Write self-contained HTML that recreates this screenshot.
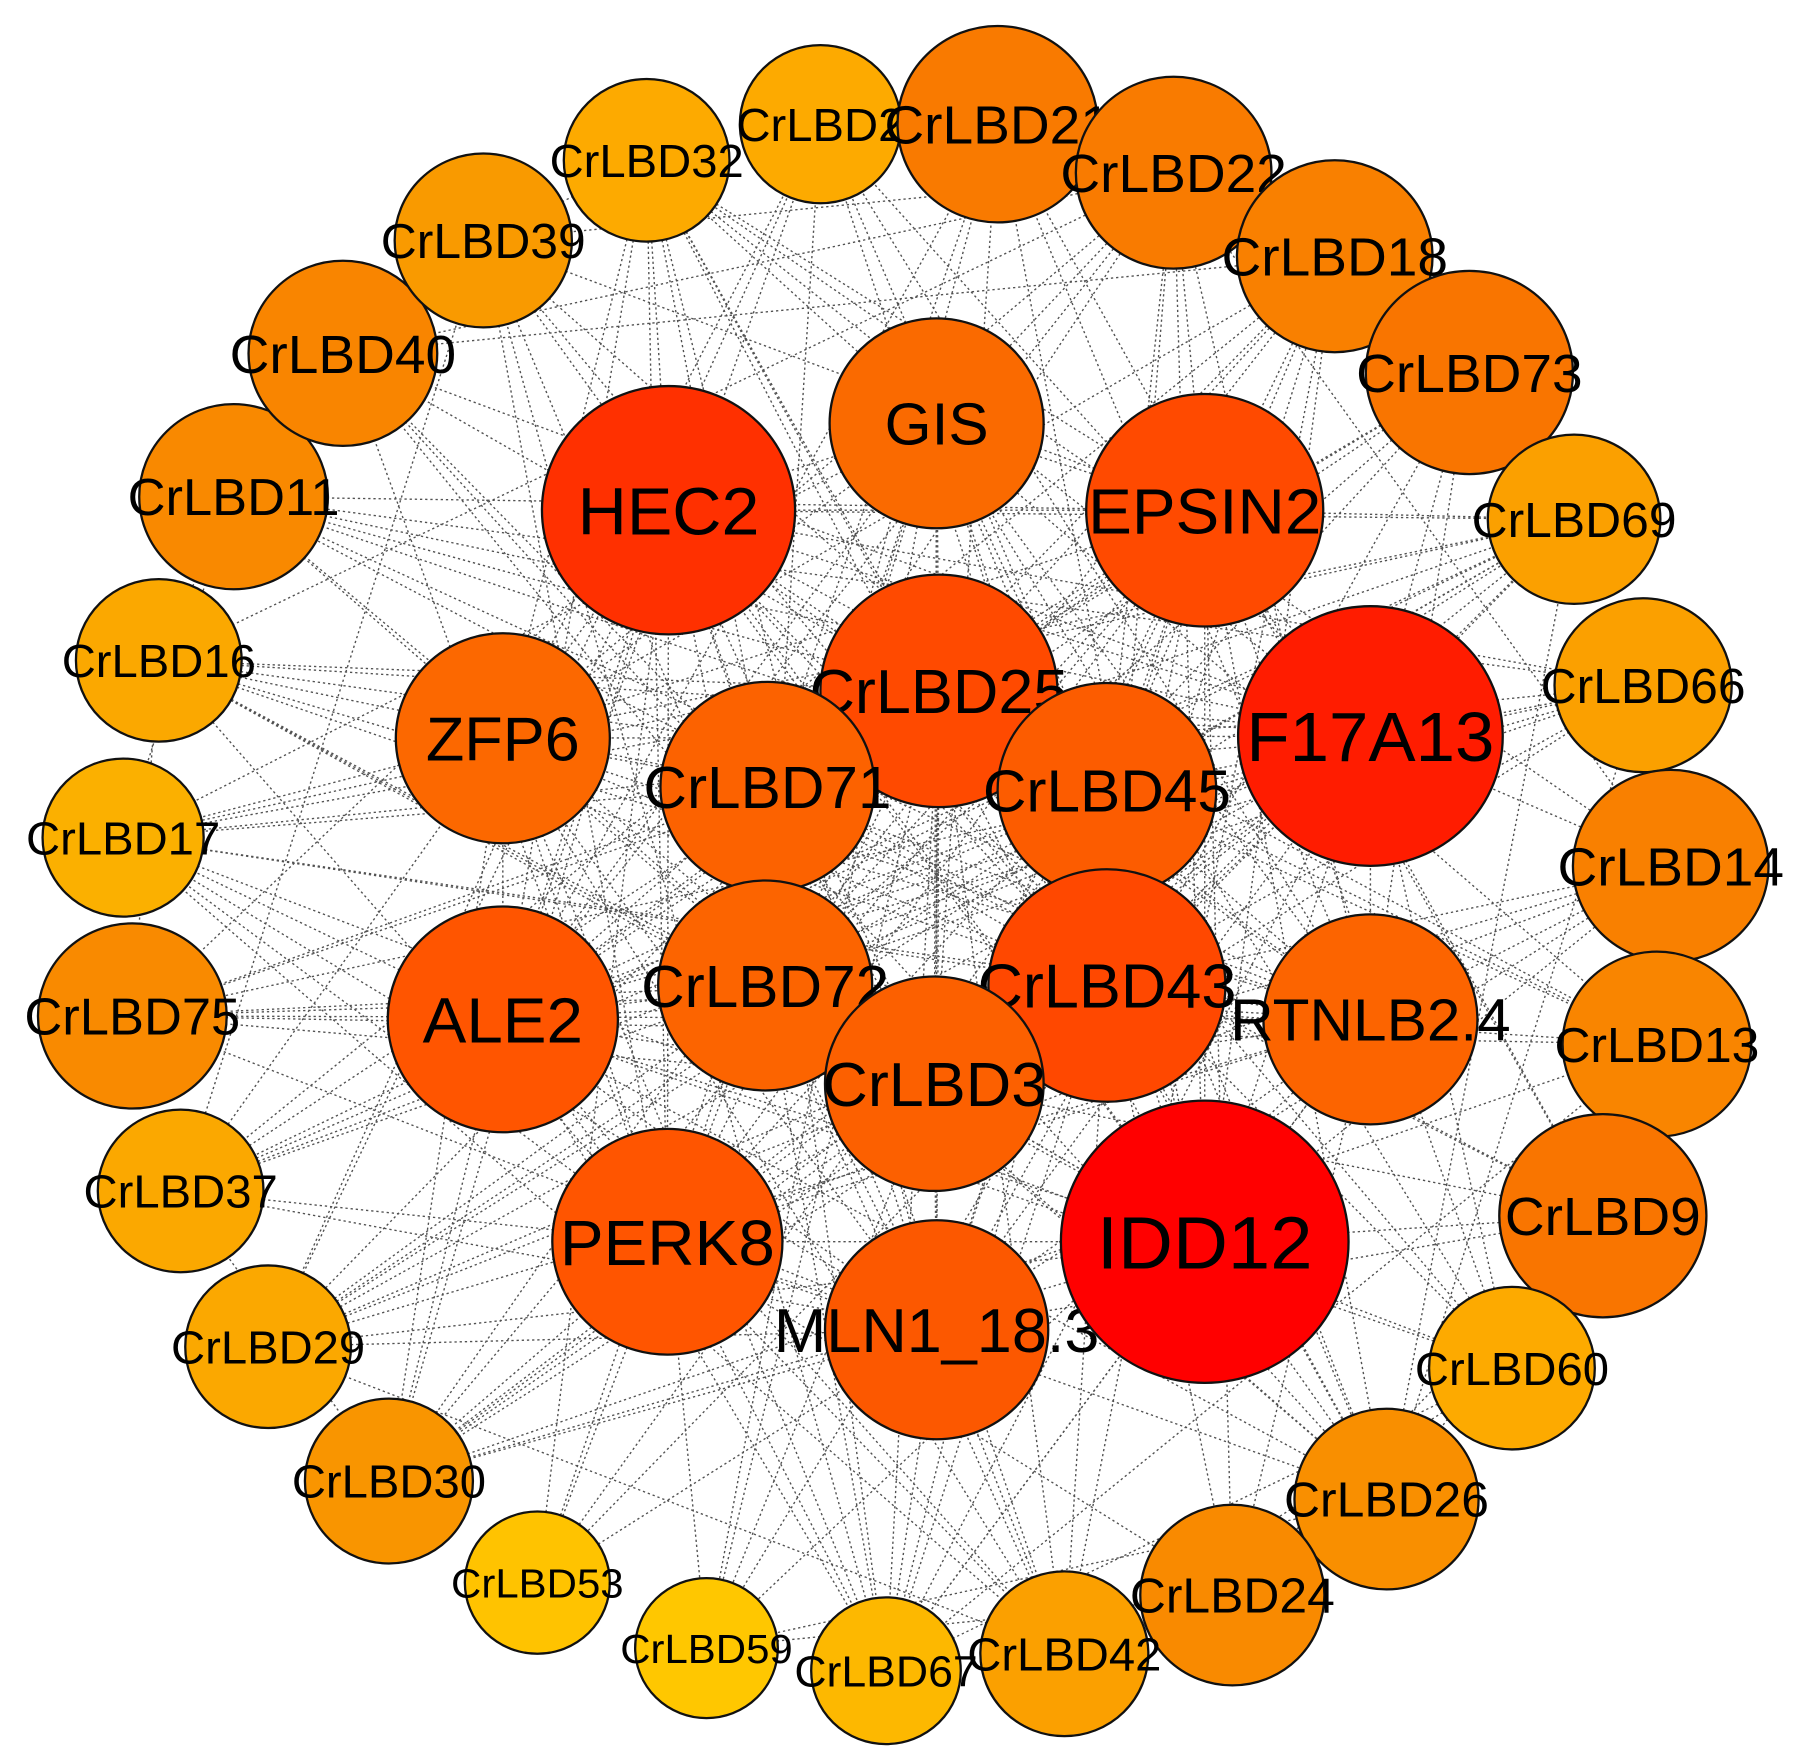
<!DOCTYPE html>
<html><head><meta charset="utf-8"><style>html,body{margin:0;padding:0;background:#fff}svg{display:block}</style></head>
<body>
<svg id="s" width="1795" height="1761" viewBox="0 0 1560 1560" preserveAspectRatio="none" xmlns="http://www.w3.org/2000/svg">
<g id="edges" stroke="#333" stroke-width="1.2" stroke-dasharray="2,2.5" fill="none" opacity="0.85"></g>
<g id="nodes" font-family="'Liberation Sans', sans-serif" text-anchor="middle"></g>
</svg>
<script>
var N=[
["CrLBD2",713,110,70,"#FDAA00",36],["CrLBD21",867,110,87,"#F97A00",42],["CrLBD22",1020,153,85,"#F97B00",42],
["CrLBD18",1160,227,85,"#F98000",42],["CrLBD73",1277,330,90,"#F97500",42],["CrLBD69",1368,460,75,"#FBA000",38],
["CrLBD66",1428,607,77,"#FBA000",38],["CrLBD14",1452,767,85,"#F98000",42],["CrLBD13",1440,925,82,"#F98500",38],
["CrLBD9",1393,1077,90,"#F97500",42],["CrLBD60",1314,1212,72,"#FDAA00",36],["CrLBD26",1205,1328,80,"#F98F00",38],
["CrLBD24",1071,1413,80,"#F98A00",38],["CrLBD42",925,1465,73,"#FBA000",36],["CrLBD67",770,1480,65,"#FDB800",34],
["CrLBD59",614,1460,62,"#FFC700",32],["CrLBD53",467,1402,63,"#FFC300",32],["CrLBD30",338,1312,73,"#F99500",36],
["CrLBD29",233,1193,72,"#FBA800",36],["CrLBD37",157,1055,72,"#FBA800",36],["CrLBD75",115,900,82,"#F98A00",40],
["CrLBD17",107,742,70,"#FBB000",36],["CrLBD16",138,585,72,"#FBA800",36],["CrLBD11",203,440,82,"#F98900",40],
["CrLBD40",298,313,82,"#F98500",42],["CrLBD39",420,213,77,"#F99A00",38],["CrLBD32",562,142,72,"#FDAA00",36],
["GIS",814,375,93,"#FA6A00",46],["HEC2",581,452,110,"#FF3000",52],["EPSIN2",1047,452,103,"#FF4A00",50],
["CrLBD25",816,612,103,"#FF4A00",48],["ZFP6",437,654,93,"#FC6800",48],["F17A13",1191,652,115,"#FF1C00",54],
["CrLBD71",667,697,93,"#FC6200",46],["CrLBD45",962,700,95,"#FC5C00",46],["CrLBD72",665,873,93,"#FC6400",46],
["CrLBD43",962,873,103,"#FF4800",48],["ALE2",437,903,100,"#FF5500",50],["RTNLB2.4",1191,903,93,"#FC6400",46],
["CrLBD3",812,960,95,"#FC6000",48],["PERK8",580,1100,100,"#FF5500",50],["MLN1_18.3",814,1178,97,"#FC5800",48],
["IDD12",1047,1100,125,"#FF0000",58]];
var ns="http://www.w3.org/2000/svg",E=document.getElementById("edges"),G=document.getElementById("nodes");
var seed=7;function r(){seed=(seed*16807)%2147483647;return seed/2147483647;}
var inner=27;
for(var i=0;i<N.length;i++)for(var j=i+1;j<N.length;j++){
 var p=(i>=inner&&j>=inner)?0.75:(j>=inner?0.5:0.12);
 if(r()<p){var l=document.createElementNS(ns,"line");l.setAttribute("x1",N[i][1]);l.setAttribute("y1",N[i][2]);l.setAttribute("x2",N[j][1]);l.setAttribute("y2",N[j][2]);E.appendChild(l);}
}
N.forEach(function(n){
 var fs=n[5]*1.14;
 var c=document.createElementNS(ns,"circle");c.setAttribute("cx",n[1]);c.setAttribute("cy",n[2]);c.setAttribute("r",n[3]);
 c.setAttribute("fill",n[4]);c.setAttribute("stroke","#111");c.setAttribute("stroke-width","2");G.appendChild(c);
 var t=document.createElementNS(ns,"text");t.setAttribute("x",n[1]);t.setAttribute("y",n[2]+fs*0.36);
 t.setAttribute("font-size",fs);t.setAttribute("fill","#000");t.textContent=n[0];G.appendChild(t);
});
</script>
</body></html>
